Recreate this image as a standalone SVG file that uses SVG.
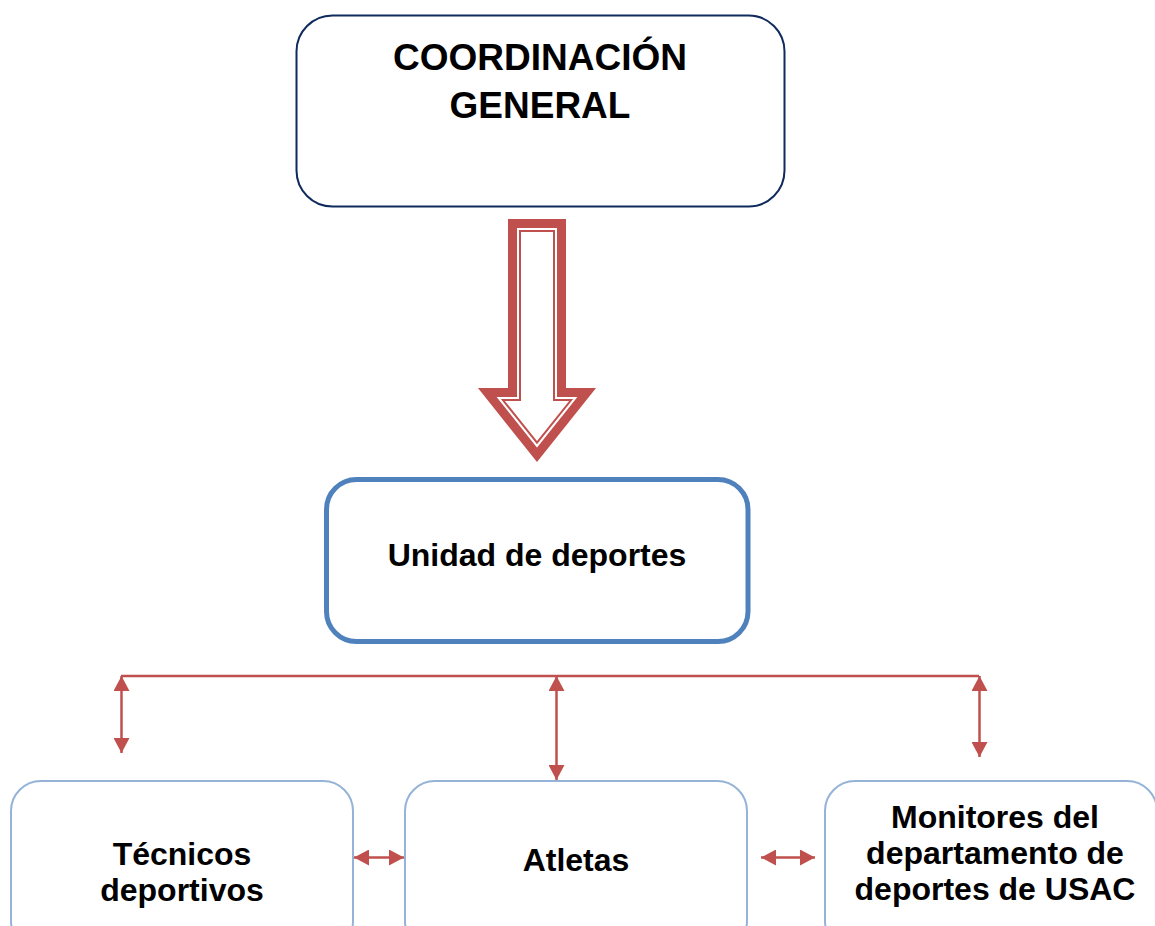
<svg xmlns="http://www.w3.org/2000/svg" width="1155" height="926" viewBox="0 0 1155 926">
<style>
text{font-family:"Liberation Sans",Arial,sans-serif;font-weight:bold;fill:#000;text-anchor:middle}
.big{font-size:37px}
.mid{font-size:32px}
.sm{font-size:32px}
.leaf{fill:#fff;stroke:#95b3d7;stroke-width:2}
.conn{stroke:#c0504d;stroke-width:2.5;fill:none}
</style>
<defs>
<marker id="ah" viewBox="0 0 15 16" refX="15" refY="8" markerWidth="15" markerHeight="16" markerUnits="userSpaceOnUse" orient="auto-start-reverse">
<path d="M0,0 L15,8 L0,16 z" fill="#c0504d"/>
</marker>
</defs>
<rect width="1155" height="926" fill="#fff"/>
<g id="coordinacion">
<rect x="296.5" y="15.5" width="488" height="191" rx="36" fill="#fff" stroke="#0f2a5c" stroke-width="2"/>
<text class="big" x="540" y="70">COORDINACIÓN</text>
<text class="big" x="540" y="118">GENERAL</text>
</g>
<g id="big-arrow">
<polygon points="512.5,223.5 561.5,223.5 561.5,392.5 586.7,392.5 537,454.8 487.3,392.5 512.5,392.5" fill="#fff" stroke="#c0504d" stroke-width="9" stroke-linejoin="miter"/>
<polygon points="520,231 554,231 554,400 571.1,400 537,442.7 502.9,400 520,400" fill="#fff" stroke="#c0504d" stroke-width="2" stroke-linejoin="miter"/>
</g>
<g id="unidad">
<rect x="326.5" y="479.5" width="421.5" height="162" rx="30" fill="#fff" stroke="#4f81bd" stroke-width="5"/>
<text class="mid" x="537" y="566">Unidad de deportes</text>
</g>
<g id="tecnicos">
<rect class="leaf" x="11" y="781" width="342" height="170" rx="30"/>
<text class="sm" x="182" y="865">Técnicos</text>
<text class="sm" x="182" y="901">deportivos</text>
</g>
<g id="atletas">
<rect class="leaf" x="405" y="781" width="342" height="170" rx="30"/>
<text class="sm" x="576" y="871">Atletas</text>
</g>
<g id="monitores">
<rect class="leaf" x="825" y="781" width="332" height="170" rx="30"/>
<text class="sm" x="995" y="828">Monitores del</text>
<text class="sm" x="995" y="864">departamento de</text>
<text class="sm" x="995" y="900">deportes de USAC</text>
</g>
<g id="connectors">
<line class="conn" x1="121" y1="676" x2="979" y2="676"/>
<line class="conn" x1="121.5" y1="676" x2="121.5" y2="753" marker-start="url(#ah)" marker-end="url(#ah)"/>
<line class="conn" x1="556.5" y1="676" x2="556.5" y2="780" marker-start="url(#ah)" marker-end="url(#ah)"/>
<line class="conn" x1="979.5" y1="676" x2="979.5" y2="757" marker-start="url(#ah)" marker-end="url(#ah)"/>
<line class="conn" x1="354" y1="857.5" x2="404" y2="857.5" marker-start="url(#ah)" marker-end="url(#ah)"/>
<line class="conn" x1="761" y1="857.5" x2="815" y2="857.5" marker-start="url(#ah)" marker-end="url(#ah)"/>
</g>
</svg>
